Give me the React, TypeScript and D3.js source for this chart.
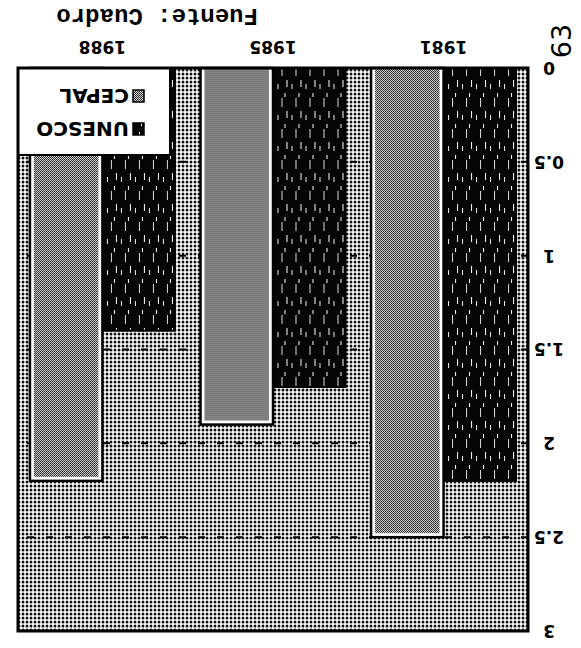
import * as d3 from 'd3';

// values (page printed upside down)
const years = ['1981', '1985', '1988'];
const seriesNames = ['UNESCO', 'CEPAL'];
const unescoValues = [2.2, 1.7, 1.4];
const cepalValues = [2.5, 1.9, 2.2];
const yTicks = [0, 0.5, 1, 1.5, 2, 2.5, 3];
const gridTicks = [0.5, 1, 1.5, 2, 2.5];
const sourceText = 'Fuente:  Cuadro';
const pageNumber = '63';

const W = 581;
const H = 648;

const App = () => {
  // chart is drawn the normal way, then the whole thing is turned 180deg like the scan
  const left = 53, right = 563, top = 17, bottom = 580;

  const x = d3.scaleBand().domain(years).range([left, right]).paddingInner(0.15).paddingOuter(0.07);
  const xs = d3.scaleBand().domain(seriesNames).range([0, x.bandwidth()]);
  const y = d3.scaleLinear().domain([0, 3]).range([bottom, top]);

  const rows = years.map((yr, i) => ({ yr, UNESCO: unescoValues[i], CEPAL: cepalValues[i] }));

  const font = '"DejaVu Sans", Verdana, sans-serif';

  return (
    <svg width={W} height={H} style={{ position: 'absolute', left: 0, top: 0, background: '#fff' }}>
      <defs>
        <pattern id="bgDots" width="4" height="4" patternUnits="userSpaceOnUse">
          <rect width="4" height="4" fill="#fff" />
          <circle cx="2" cy="2" r="1.45" fill="#111" />
        </pattern>
        <pattern id="halftone" width="2" height="2" patternUnits="userSpaceOnUse">
          <rect width="2" height="2" fill="#d8d8d8" />
          <rect x="0" y="0" width="1" height="1" fill="#1a1a1a" />
          <rect x="1" y="1" width="1" height="1" fill="#333" />
        </pattern>
        <pattern id="darkStreak" width="14" height="31" patternUnits="userSpaceOnUse">
          <rect width="14" height="31" fill="#050505" />
          <rect x="2" y="3" width="1" height="7" fill="#fff" />
          <rect x="7" y="14" width="1" height="9" fill="#ddd" />
          <rect x="11" y="1" width="1" height="5" fill="#eee" />
          <rect x="4" y="24" width="1" height="4" fill="#fff" />
        </pattern>
      </defs>

      <g transform={`rotate(180, ${W / 2}, ${H / 2})`}>
        {/* plot background */}
        <rect x={left} y={top} width={right - left} height={bottom - top} fill="url(#bgDots)" />

        {/* dashed grid */}
        {gridTicks.map(t => (
          <line key={t} x1={left} x2={right} y1={y(t)} y2={y(t)}
            stroke="#000" strokeWidth={2} strokeDasharray="7 12" />
        ))}

        {/* bars */}
        {rows.map(r => (
          <g key={r.yr} transform={`translate(${x(r.yr)},0)`}>
            <rect x={xs('UNESCO')} y={y(r.UNESCO)} width={xs.bandwidth()} height={y(0) - y(r.UNESCO)}
              fill="url(#darkStreak)" stroke="#000" strokeWidth={2} />
            <rect x={xs('CEPAL')} y={y(r.CEPAL)} width={xs.bandwidth()} height={y(0) - y(r.CEPAL)}
              fill="#fff" stroke="#000" strokeWidth={2.5} />
            <rect x={xs('CEPAL')! + 4} y={y(r.CEPAL) + 4} width={xs.bandwidth() - 8}
              height={y(0) - y(r.CEPAL) - 4} fill="url(#halftone)" />
          </g>
        ))}

        {/* legend */}
        <rect x={411} y={493} width={right - 411} height={bottom - 493} fill="#fff" stroke="#000" strokeWidth={2} />
        {seriesNames.map((s, i) => (
          <g key={s} transform={`translate(437,${519 + i * 33})`}>
            <rect x={0} y={-6} width={11} height={12}
              fill={s === 'UNESCO' ? 'url(#darkStreak)' : 'url(#halftone)'} stroke="#000" strokeWidth={1.5} />
            <text x={15} y={0} dy="0.36em" fontFamily={font} fontWeight="bold" fontSize={20}>{s}</text>
          </g>
        ))}

        {/* frame */}
        <rect x={left} y={top} width={right - left} height={bottom - top} fill="none" stroke="#000" strokeWidth={3} />

        {/* y labels */}
        {yTicks.map(t => (
          <text key={t} x={32} y={y(t)} dy="0.36em" textAnchor="middle"
            fontFamily={font} fontWeight="bold" fontSize={17}>{String(t)}</text>
        ))}

        {/* category labels */}
        {years.map(yr => (
          <text key={yr} x={x(yr)! + x.bandwidth() / 2} y={607} textAnchor="middle"
            fontFamily={font} fontWeight="bold" fontSize={17}>{yr}</text>
        ))}

        {/* source line */}
        <text x={323} y={639} fontFamily='"Liberation Mono", "DejaVu Sans Mono", monospace'
          fontWeight="bold" fontSize={24}>{sourceText}</text>

        {/* page number, turned */}
        <text transform="translate(20,607) rotate(90)" textAnchor="middle" dy="0.36em"
          fontFamily={font} fontSize={27}>{pageNumber}</text>
      </g>
    </svg>
  );
};

export default App;
